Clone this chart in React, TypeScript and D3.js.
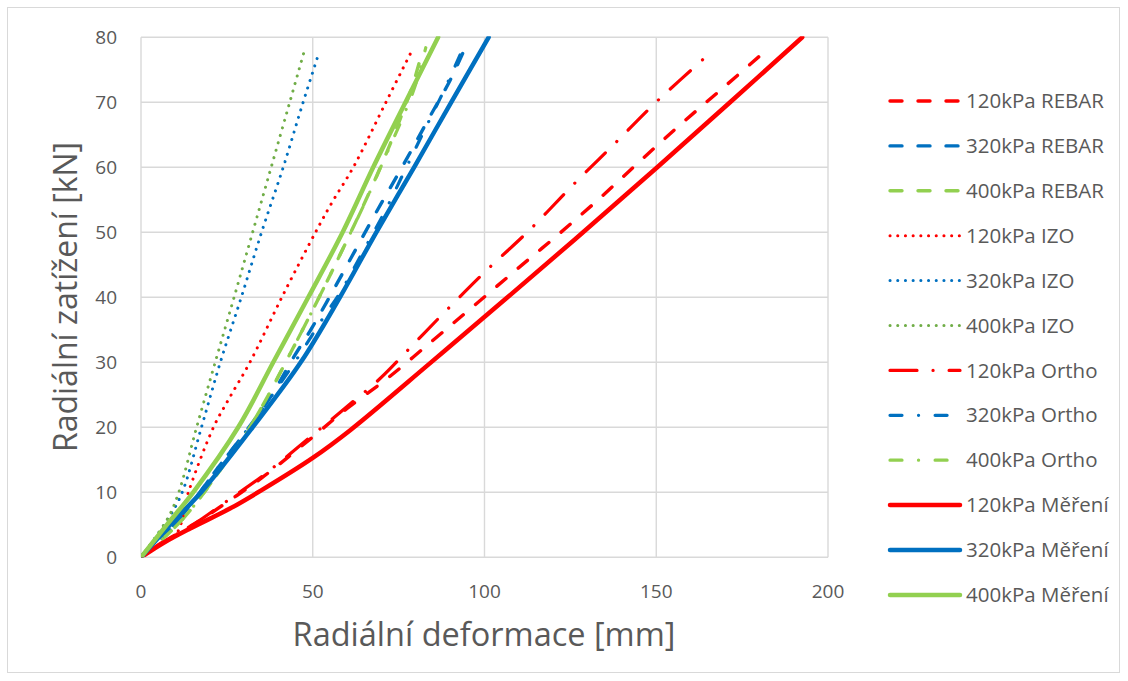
import React from "react";
import * as d3 from "d3";

// ---------- data (deformation [mm], load [kN]) ----------
const X_TICKS = [0, 50, 100, 150, 200];
const Y_TICKS = [0, 10, 20, 30, 40, 50, 60, 70, 80];

const rebar120X = [0, 5, 15.7, 25.4, 35.6, 49.5, 60, 71.9, 84.6, 96.7, 109.4, 121.8, 134.1, 146.2, 158.4, 170.5, 183.1];
const rebar120Y = [0, 1.9, 5.2, 8.6, 12.4, 18.3, 22.9, 27.6, 33.2, 38.6, 44.3, 49.8, 55.5, 61.4, 67.2, 72.7, 78.5];

const rebar320X = [0, 8, 15, 22, 30, 37.5, 44.8, 49.2, 54.1, 61.3, 68.6, 76.4, 84.1, 90, 93.8];
const rebar320Y = [0, 4, 8.5, 13.5, 19, 24.5, 31.1, 34.8, 39.3, 46.2, 53.2, 60.4, 67.8, 73.4, 77.7];

const rebar400X = [0, 7.5, 12, 17, 22.5, 29.9, 36.4, 42.5, 48.5, 54.2, 59.9, 65.5, 70.5, 75.5, 79, 82];
const rebar400Y = [0, 3.4, 5.8, 9, 13, 18.5, 24.3, 30.4, 36.5, 42.5, 48.7, 55, 61, 67.5, 72.5, 78];

const izo120X = [0, 5, 10.4, 13.8, 21.1, 25.4, 31.7, 41, 50.8, 55.5, 61.8, 71.3, 79.1];
const izo120Y = [0, 1.8, 3.7, 10, 20, 24.2, 30, 40, 50, 54.5, 60, 70, 78.2];

const izo320X = [0, 8, 12, 17.6, 23.1, 29.2, 35.1, 41.4, 47.2, 51.8];
const izo320Y = [0, 6, 10, 20, 30, 40, 50, 60, 70, 77.6];

const izo400X = [0, 7.8, 11, 16.2, 21.6, 27.1, 32.5, 37.9, 43.3, 47.7];
const izo400Y = [0, 6, 10, 20, 30, 40, 50, 60, 70, 78.2];

const ortho120X = [0, 5, 15.7, 25.4, 35.6, 49.5, 60, 69.6, 79, 88, 100.1, 113.2, 125.8, 138, 150.3, 166.6];
const ortho120Y = [0, 1.9, 5.2, 8.8, 12.6, 18.6, 23.2, 27.5, 32.6, 37.5, 43.9, 50.4, 57.3, 63.7, 70.2, 78];

const ortho320X = [0, 8, 15, 22, 30, 38, 46, 52, 58.4, 64.7, 71, 76.8, 82.5, 88, 93.5];
const ortho320Y = [0, 4, 8.5, 13.5, 19, 24.8, 31, 36, 41.1, 47.1, 53.2, 59.5, 65.7, 71.6, 78];

const ortho400X = [0, 7.5, 12, 17, 22.5, 29.9, 36.4, 42.5, 48.5, 54.2, 59.9, 65.5, 70.5, 75.9, 79.8, 82.9];
const ortho400Y = [0, 3.4, 5.8, 9, 13, 18.5, 24.3, 30.4, 36.5, 42.5, 48.7, 54.9, 60.9, 67.3, 72.5, 78.4];

const mer120X = [0, 6.5, 14.2, 25.9, 35, 50, 61, 84, 106.7, 128.7, 150.3, 171.5, 192.5];
const mer120Y = [0, 2.2, 4.4, 7.5, 10.3, 15.3, 19.6, 29.8, 40, 50, 60, 70, 80];

const mer320X = [0, 8.5, 17.5, 32.5, 46.5, 57.9, 68.5, 79.5, 90.3, 101.2];
const mer320Y = [0, 5, 10, 20, 30, 40, 50, 60, 70, 80];

const mer400X = [0, 7.5, 15.2, 28.3, 38.5, 48.7, 58.7, 67.6, 77, 86.5];
const mer400Y = [0, 5, 10, 20, 30, 40, 50, 60, 70, 80];

const RED = "#FF0000";
const BLUE = "#0070C0";
const GREEN = "#92D050";
const GREEN_DARK = "#70AD47";

type Style = { width: number; dash: string | null };
const REBAR: Style = { width: 3.4, dash: "12 16" };
const IZO: Style = { width: 3, dash: "0.1 7.6" };
const ORTHO_LONG: Style = { width: 3.2, dash: "27 16 0.1 16" };
const ORTHO: Style = { width: 3.2, dash: "12 16.5 0.1 16.5" };
const SOLID: Style = { width: 4.5, dash: null };

const SERIES = [
  { label: "120kPa REBAR", x: rebar120X, y: rebar120Y, color: RED, style: REBAR },
  { label: "320kPa REBAR", x: rebar320X, y: rebar320Y, color: BLUE, style: REBAR },
  { label: "400kPa REBAR", x: rebar400X, y: rebar400Y, color: GREEN, style: REBAR },
  { label: "120kPa IZO", x: izo120X, y: izo120Y, color: RED, style: IZO },
  { label: "320kPa IZO", x: izo320X, y: izo320Y, color: BLUE, style: IZO },
  { label: "400kPa IZO", x: izo400X, y: izo400Y, color: GREEN_DARK, style: IZO },
  { label: "120kPa Ortho", x: ortho120X, y: ortho120Y, color: RED, style: ORTHO_LONG },
  { label: "320kPa Ortho", x: ortho320X, y: ortho320Y, color: BLUE, style: ORTHO },
  { label: "400kPa Ortho", x: ortho400X, y: ortho400Y, color: GREEN, style: ORTHO },
  { label: "120kPa Měření", x: mer120X, y: mer120Y, color: RED, style: SOLID },
  { label: "320kPa Měření", x: mer320X, y: mer320Y, color: BLUE, style: SOLID },
  { label: "400kPa Měření", x: mer400X, y: mer400Y, color: GREEN, style: SOLID },
];

const W = 1128;
const H = 681;
const PL = 141, PR = 828, PT = 37.3, PB = 557.3;
const FONT = "'Open Sans', sans-serif";
const TXT = "#595959";
const GRID = "#d9d9d9";

export default function App() {
  const xs = d3.scaleLinear().domain([0, 200]).range([PL, PR]);
  const ys = d3.scaleLinear().domain([0, 80]).range([PB, PT]);
  const line = d3
    .line<[number, number]>()
    .x((d) => xs(d[0]))
    .y((d) => ys(d[1]))
    .curve(d3.curveCatmullRom.alpha(0.5));

  const legendX0 = 890, legendX1 = 960, legendY0 = 101, legendStep = 44.9;

  return (
    <svg
      width={W}
      height={H}
      style={{ position: "absolute", left: 0, top: 0, background: "#fff" }}
      fontFamily={FONT}
    >
      <rect x={0} y={0} width={W} height={H} fill="#fff" />
      <rect x={7.5} y={7.5} width={1112} height={665} fill="none" stroke={GRID} strokeWidth={1} />
      <defs>
        <clipPath id="plotClip">
          <rect x={PL} y={PT - 1} width={PR - PL} height={PB - PT + 1} />
        </clipPath>
      </defs>
      {/* gridlines */}
      {Y_TICKS.map((t) => (
        <line key={"gy" + t} x1={PL} x2={PR} y1={ys(t)} y2={ys(t)} stroke={GRID} strokeWidth={1.4} />
      ))}
      {X_TICKS.map((t) => (
        <line key={"gx" + t} x1={xs(t)} x2={xs(t)} y1={PT} y2={PB} stroke={GRID} strokeWidth={1.4} />
      ))}
      {/* tick labels */}
      {Y_TICKS.map((t) => (
        <text key={"ty" + t} x={117} y={ys(t)} dy="0.35em" textAnchor="end" fontSize={19} fill={TXT}>
          {t}
        </text>
      ))}
      {X_TICKS.map((t) => (
        <text key={"tx" + t} x={xs(t)} y={591} dy="0.35em" textAnchor="middle" fontSize={19} fill={TXT}>
          {t}
        </text>
      ))}
      {/* axis titles */}
      <text x={484} y={635} dy="0.35em" textAnchor="middle" fontSize={32.5} fill={TXT}>
        Radiální deformace [mm]
      </text>
      <text
        transform={`translate(66,297) rotate(-90)`}
        dy="0.35em"
        textAnchor="middle"
        fontSize={32}
        fill={TXT}
      >
        Radiální zatížení [kN]
      </text>
      {/* series */}
      <g clipPath="url(#plotClip)">
        {SERIES.map((s) => {
          const pts = s.x.map((v, i) => [v, s.y[i]] as [number, number]);
          return (
            <path
              key={s.label}
              d={line(pts) || ""}
              fill="none"
              stroke={s.color}
              strokeWidth={s.style.width}
              strokeDasharray={s.style.dash || undefined}
              strokeLinecap="round"
              strokeLinejoin="round"
            />
          );
        })}
      </g>
      {/* legend */}
      {SERIES.map((s, i) => {
        const y = legendY0 + i * legendStep;
        return (
          <g key={"lg" + s.label}>
            <line
              x1={legendX0}
              x2={legendX1}
              y1={y}
              y2={y}
              stroke={s.color}
              strokeWidth={s.style.width}
              strokeDasharray={s.style.dash || undefined}
              strokeLinecap="round"
            />
            <text x={966} y={y} dy="0.35em" fontSize={20.5} fill={TXT}>
              {s.label}
            </text>
          </g>
        );
      })}
    </svg>
  );
}
